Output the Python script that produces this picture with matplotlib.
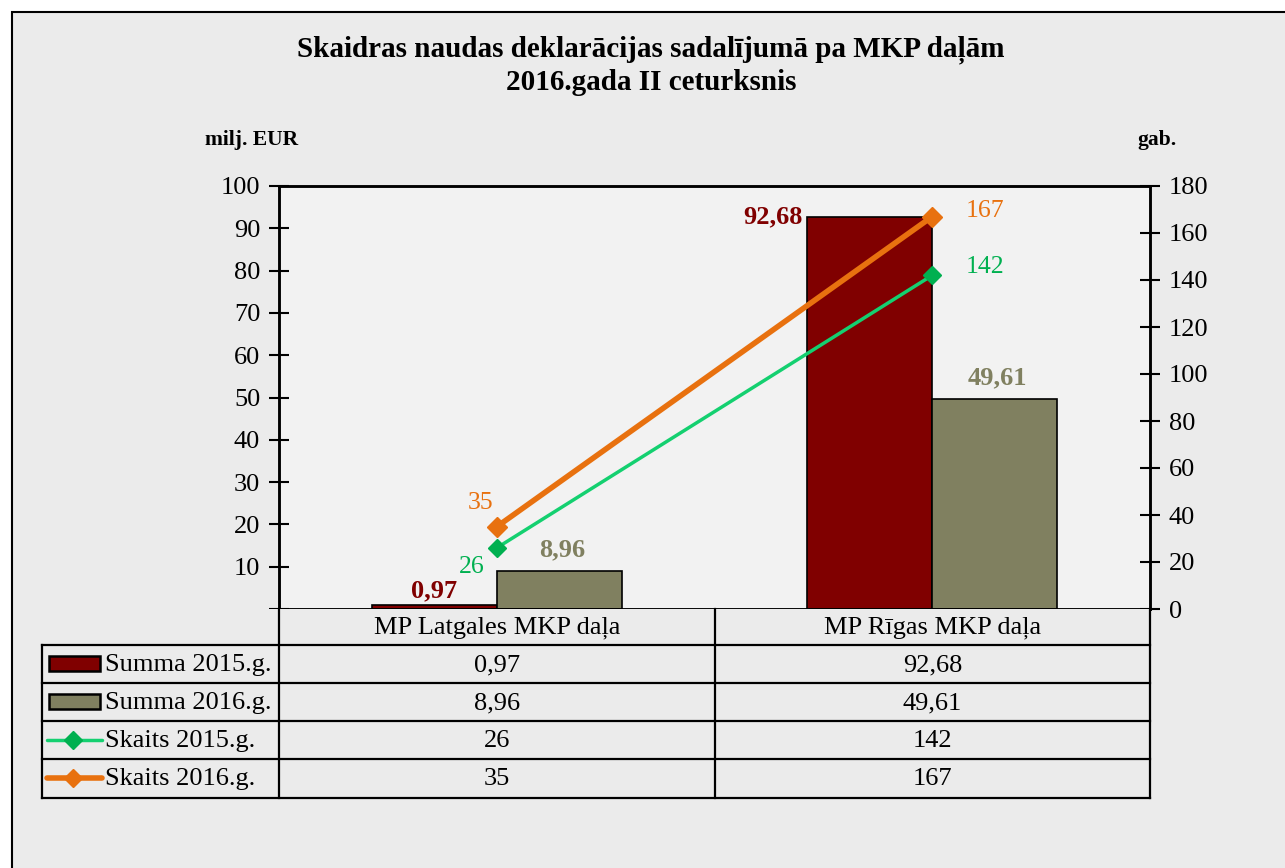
import numpy as np
import matplotlib.pyplot as plt
from matplotlib.patches import Rectangle

# data
categories = ['MP Latgales MKP daļa', 'MP Rīgas MKP daļa']
series_names = ['Summa 2015.g.', 'Summa 2016.g.', 'Skaits 2015.g.', 'Skaits 2016.g.']
summa_2015 = [0.97, 92.68]
summa_2016 = [8.96, 49.61]
skaits_2015 = [26, 142]
skaits_2016 = [35, 167]

c_red = '#800000'
c_olive = '#808060'
c_green = '#14d070'
c_green_mk = '#00b050'
c_orange = '#e8710f'
bg = '#ebebeb'

plt.rcParams['font.family'] = ['Liberation Serif', 'DejaVu Serif']

W, H = 1285, 868
fig = plt.figure(figsize=(W / 100, H / 100), dpi=100)
fig.patch.set_facecolor('white')
fig.patches.append(Rectangle((12 / W, -0.1), 1.2, 1.1 - 12 / H, transform=fig.transFigure,
                             facecolor=bg, edgecolor='black', lw=1.5, zorder=-10))

fig.text(651 / W, 1 - 50 / H, 'Skaidras naudas deklarācijas sadalījumā pa MKP daļām',
         ha='center', va='center', fontsize=21, fontweight='bold')
fig.text(651 / W, 1 - 83 / H, '2016.gada II ceturksnis',
         ha='center', va='center', fontsize=21, fontweight='bold')
fig.text(252 / W, 1 - 140 / H, 'milj. EUR', ha='center', va='center', fontsize=15.5, fontweight='bold')
fig.text(1157 / W, 1 - 140 / H, 'gab.', ha='center', va='center', fontsize=15.5, fontweight='bold')

# main chart
ax = fig.add_axes([279 / W, 1 - 609 / H, 871 / W, 423 / H])
ax.set_facecolor('#f2f2f2')
x = np.arange(len(categories))
w = 0.287
ax.bar(x - w / 2, summa_2015, w, color=c_red, edgecolor='black', lw=1.2, zorder=2)
ax.bar(x + w / 2, summa_2016, w, color=c_olive, edgecolor='black', lw=1.2, zorder=2)
ax.set_xlim(-0.5, 1.5)
ax.set_ylim(0, 100)
ax.set_yticks(range(0, 101, 10))
ax.set_yticklabels([''] + [str(v) for v in range(10, 101, 10)])
ax.tick_params(axis='y', direction='inout', length=15, width=1.5, labelsize=19, pad=6)
ax.set_xticks([])
for s in ax.spines.values():
    s.set_linewidth(1.8)

# bar labels
for i in range(len(categories)):
    if summa_2015[i] > 90:
        ax.annotate(f'{summa_2015[i]:.2f}'.replace('.', ','), (x[i] - w, summa_2015[i]),
                    xytext=(-3, 0), textcoords='offset points', ha='right', va='center',
                    color=c_red, fontsize=19, fontweight='bold')
    else:
        ax.annotate(f'{summa_2015[i]:.2f}'.replace('.', ','), (x[i] - w / 2, summa_2015[i]),
                    xytext=(0, 2), textcoords='offset points', ha='center', va='bottom',
                    color=c_red, fontsize=19, fontweight='bold')
    ax.annotate(f'{summa_2016[i]:.2f}'.replace('.', ','), (x[i] + w / 2, summa_2016[i]),
                xytext=(2, 7), textcoords='offset points', ha='center', va='bottom',
                color=c_olive, fontsize=19, fontweight='bold')

ax2 = ax.twinx()
ax2.set_ylim(0, 180)
ax2.set_yticks(range(0, 181, 20))
ax2.tick_params(axis='y', direction='inout', length=15, width=1.5, labelsize=19, pad=6)
for s in ax2.spines.values():
    s.set_linewidth(1.8)
ax2.plot(x, skaits_2015, color=c_green, lw=2.5, marker='D', ms=9,
         mfc=c_green_mk, mec=c_green_mk, zorder=3)
ax2.plot(x, skaits_2016, color=c_orange, lw=4, marker='D', ms=10, zorder=3)

ax2.annotate(str(skaits_2016[0]), (x[0], skaits_2016[0]), xytext=(-12, 17),
             textcoords='offset points', ha='center', va='center', color=c_orange, fontsize=18.5)
ax2.annotate(str(skaits_2015[0]), (x[0], skaits_2015[0]), xytext=(-18, -14),
             textcoords='offset points', ha='center', va='center', color=c_green_mk, fontsize=18.5)
ax2.annotate(str(skaits_2016[1]), (x[1], skaits_2016[1]), xytext=(38, 4),
             textcoords='offset points', ha='center', va='center', color=c_orange, fontsize=18.5)
ax2.annotate(str(skaits_2015[1]), (x[1], skaits_2015[1]), xytext=(38, 6),
             textcoords='offset points', ha='center', va='center', color=c_green_mk, fontsize=18.5)

# data table
tax = fig.add_axes([42 / W, 1 - 798 / H, 1108 / W, 189 / H])
tax.set_xlim(42, 1150)
tax.set_ylim(798, 609)
tax.set_facecolor(bg)
tax.set_xticks([])
tax.set_yticks([])
for s in tax.spines.values():
    s.set_visible(False)
col_x = [42, 279, 715, 1150]
row_y = [609, 645, 683, 721, 759, 798]
lkw = dict(color='black', lw=1.6, solid_capstyle='projecting', clip_on=False)
for yy in row_y[1:]:
    tax.plot([col_x[0], col_x[-1]], [yy, yy], **lkw)
for xx in col_x[1:]:
    tax.plot([xx, xx], [row_y[0], row_y[-1]], **lkw)
tax.plot([col_x[0], col_x[0]], [row_y[1], row_y[-1]], **lkw)
tax.add_patch(Rectangle((col_x[0], row_y[0]), col_x[1] - col_x[0], row_y[1] - row_y[0],
                        facecolor=bg, edgecolor='none'))

for j, cat in enumerate(categories):
    tax.text((col_x[j + 1] + col_x[j + 2]) / 2, (row_y[0] + row_y[1]) / 2 + 1, cat,
             ha='center', va='center', fontsize=19)

values = [
    [f'{v:.2f}'.replace('.', ',') for v in summa_2015],
    [f'{v:.2f}'.replace('.', ',') for v in summa_2016],
    [str(v) for v in skaits_2015],
    [str(v) for v in skaits_2016],
]
for i, name in enumerate(series_names):
    yc = (row_y[i + 1] + row_y[i + 2]) / 2
    tax.text(105, yc + 1, name, ha='left', va='center', fontsize=19)
    for j in range(len(categories)):
        tax.text((col_x[j + 1] + col_x[j + 2]) / 2, yc + 1, values[i][j],
                 ha='center', va='center', fontsize=19)

swatch_fill = [c_red, c_olive]
for i in range(2):
    yc = (row_y[i + 1] + row_y[i + 2]) / 2
    tax.add_patch(Rectangle((49, yc - 7.5), 51, 15, facecolor=swatch_fill[i],
                            edgecolor='black', lw=1.8))
line_sw = [(c_green, c_green_mk, 2.5, 9), (c_orange, c_orange, 4, 9)]
for i, (c, mc, lw, ms) in enumerate(line_sw):
    yc = (row_y[i + 3] + row_y[i + 4]) / 2
    tax.plot([47, 102], [yc, yc], color=c, lw=lw, solid_capstyle='round')
    tax.plot([73], [yc], color=mc, marker='D', ms=ms)

fig.savefig('out.png', dpi=100)
